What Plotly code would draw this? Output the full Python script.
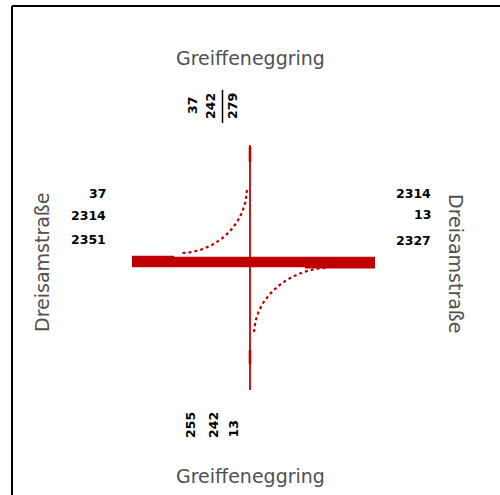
import numpy as np
import plotly.graph_objects as go

# ---- data (vehicle flows) ----
street_ns = "Greiffeneggring"
street_we = "Dreisamstraße"
through_we = 2314          # Dreisamstraße straight through
through_ns = 242           # Greiffeneggring straight through
turn_n_w = 37              # from north turning west
turn_s_e = 13              # from south turning east

left_labels = ["37", "2314", "2351"]
right_labels = ["2314", "13", "2327"]
top_labels = ["37", "242", "279"]
bottom_labels = ["255", "242", "13"]

RED = "#c00000"
ARM = 120

def width(q, base=through_we, wmax=10.5, wmin=1.8):
    return max(wmin, wmax * q / base)

fig = go.Figure()

# horizontal through flow
fig.add_trace(go.Scatter(x=[-ARM + 2, ARM + 5], y=[0, 0], mode="lines",
                         line=dict(color=RED, width=width(through_we)), hoverinfo="skip"))
# small extra thickness on arms carrying turning flows
fig.add_trace(go.Scatter(x=[-ARM + 2, -76], y=[1.0, 1.0], mode="lines",
                         line=dict(color=RED, width=width(through_we + turn_n_w)), hoverinfo="skip"))
fig.add_trace(go.Scatter(x=[55, ARM + 5], y=[-1.2, -1.2], mode="lines",
                         line=dict(color=RED, width=width(through_we + turn_s_e)), hoverinfo="skip"))

# vertical through flow
fig.add_trace(go.Scatter(x=[0, 0], y=[ARM - 3, -ARM - 8], mode="lines",
                         line=dict(color=RED, width=width(through_ns)), hoverinfo="skip"))
fig.add_trace(go.Scatter(x=[0, 0], y=[ARM - 5, ARM - 20], mode="lines",
                         line=dict(color=RED, width=2.6), hoverinfo="skip"))
fig.add_trace(go.Scatter(x=[0, 0], y=[-88, -102], mode="lines",
                         line=dict(color=RED, width=2.6), hoverinfo="skip"))

# turning flows (cubic Bezier curves)
def bezier(p0, p1, p2, p3, n=60):
    t = np.linspace(0, 1, n)[:, None]
    pts = ((1 - t) ** 3) * np.array(p0) + 3 * ((1 - t) ** 2) * t * np.array(p1) \
        + 3 * (1 - t) * t ** 2 * np.array(p2) + t ** 3 * np.array(p3)
    return pts[:, 0], pts[:, 1]

cx, cy = bezier((-3, 72), (-5, 30), (-42, 9), (-68, 9))
fig.add_trace(go.Scatter(x=cx, y=cy, mode="lines",
                         line=dict(color=RED, width=2.2, dash="dot"), hoverinfo="skip"))
cx, cy = bezier((4, -70), (6, -30), (45, -7), (75, -6))
fig.add_trace(go.Scatter(x=cx, y=cy, mode="lines",
                         line=dict(color=RED, width=2.2, dash="dot"), hoverinfo="skip"))

ann = []
name_font = dict(family="DejaVu Sans", size=19, color="#505050")
num_font = dict(family="DejaVu Sans", size=12.5, color="#000000", weight="bold")

ann.append(dict(x=0, y=204, text=street_ns, showarrow=False, font=name_font))
ann.append(dict(x=0, y=-214, text=street_ns, showarrow=False, font=name_font))
ann.append(dict(x=-208, y=0, text=street_we, showarrow=False, font=name_font, textangle=-90))
ann.append(dict(x=206, y=-2, text=street_we, showarrow=False, font=name_font, textangle=90))

for lab, yy in zip(left_labels, [69, 47, 23]):
    ann.append(dict(x=-142, y=yy, text=lab, showarrow=False, font=num_font, xanchor="right"))
for lab, yy in zip(right_labels, [69, 48, 22]):
    ann.append(dict(x=183, y=yy, text=lab, showarrow=False, font=num_font, xanchor="right"))
for lab, xx in zip(top_labels, [-58, -40, -18]):
    ann.append(dict(x=xx, y=156, text=lab, showarrow=False, font=num_font, textangle=-90))
for lab, xx in zip(bottom_labels, [-60, -37, -17]):
    ann.append(dict(x=xx, y=-178, text=lab, showarrow=False, font=num_font,
                    textangle=-90, yanchor="bottom"))

shapes = [
    dict(type="line", x0=-27.5, x1=-27.5, y0=139, y1=172, line=dict(color="black", width=1.5)),
    dict(type="line", xref="paper", yref="paper", x0=12 / 500, x1=1.01, y0=1 - 6 / 495, y1=1 - 6 / 495,
         line=dict(color="black", width=2)),
    dict(type="line", xref="paper", yref="paper", x0=12 / 500, x1=12 / 500, y0=1 - 6 / 495, y1=-0.01,
         line=dict(color="black", width=2)),
]

fig.update_layout(
    width=500, height=495, margin=dict(l=0, r=0, t=0, b=0),
    paper_bgcolor="white", plot_bgcolor="white", showlegend=False,
    xaxis=dict(range=[-250, 250], visible=False, fixedrange=True),
    yaxis=dict(range=[-233, 262], visible=False, fixedrange=True),
    annotations=ann, shapes=shapes,
)

fig.write_html("out.html", config={"displayModeBar": False},
               post_script="document.body.style.margin='0';")
